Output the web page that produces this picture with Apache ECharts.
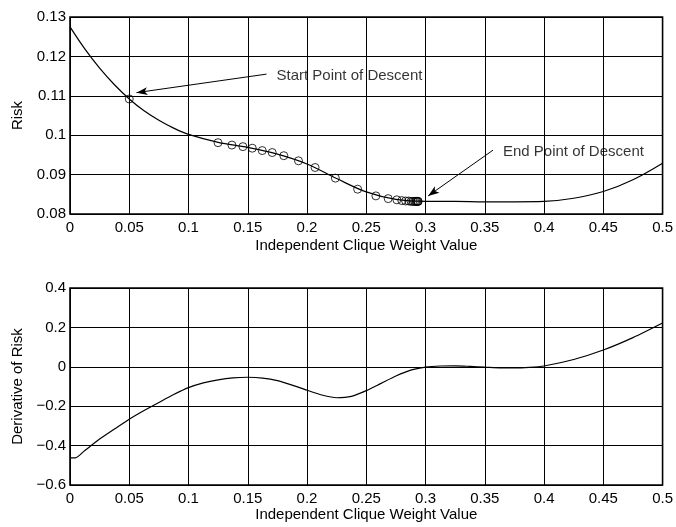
<!DOCTYPE html>
<html>
<head>
<meta charset="utf-8">
<script src="https://cdn.jsdelivr.net/npm/echarts@6/dist/echarts.min.js"></script>
<style>
html,body{margin:0;padding:0;background:#fff;}
#chart{width:676px;height:527px;}
</style>
</head>
<body>
<div id="chart"></div>
<script>
// ---- Data ----
const xTicks = [0, 0.05, 0.1, 0.15, 0.2, 0.25, 0.3, 0.35, 0.4, 0.45, 0.5];
const riskX = [0, 0.0125, 0.025, 0.0375, 0.05, 0.0625, 0.075, 0.0875, 0.1, 0.125, 0.15, 0.175, 0.2, 0.225, 0.25, 0.275, 0.3, 0.325, 0.35, 0.375, 0.4, 0.425, 0.45, 0.475, 0.5];
const riskY = [0.1275, 0.1219, 0.1170, 0.1128, 0.1092, 0.1062, 0.1038, 0.1018, 0.1002, 0.0982, 0.0969, 0.0952, 0.0927, 0.0890, 0.0856, 0.0837, 0.0832, 0.0832, 0.0831, 0.0831, 0.0832, 0.0840, 0.0857, 0.0887, 0.0929];
const descentX = [0.05, 0.1249, 0.1366, 0.1459, 0.1538, 0.1622, 0.1706, 0.1804, 0.1928, 0.2068, 0.2239, 0.2427, 0.2581, 0.2685, 0.2758, 0.2800, 0.2832, 0.2858, 0.2878, 0.2894, 0.2907, 0.2917, 0.2925, 0.2931, 0.2935, 0.2938];
const descentY = [0.1092, 0.0981, 0.0975, 0.0971, 0.0967, 0.0961, 0.0956, 0.0948, 0.0935, 0.0918, 0.0891, 0.0863, 0.0846, 0.0839, 0.0836, 0.0834, 0.0833, 0.0833, 0.0832, 0.0832, 0.0832, 0.0832, 0.0832, 0.0832, 0.0832, 0.0832];
const derivX = [0, 0.0045, 0.0125, 0.025, 0.0375, 0.05, 0.0625, 0.075, 0.0875, 0.1, 0.1125, 0.125, 0.1375, 0.15, 0.1625, 0.175, 0.1875, 0.2, 0.2125, 0.225, 0.2375, 0.25, 0.2625, 0.275, 0.2875, 0.3, 0.3125, 0.325, 0.3375, 0.35, 0.3625, 0.375, 0.3875, 0.4, 0.425, 0.45, 0.475, 0.5];
const derivY = [-0.462, -0.462, -0.425, -0.367, -0.316, -0.266, -0.222, -0.181, -0.141, -0.106, -0.082, -0.066, -0.056, -0.053, -0.057, -0.070, -0.093, -0.119, -0.143, -0.157, -0.150, -0.121, -0.084, -0.047, -0.017, -0.002, 0.004, 0.005, 0.002, -0.002, -0.005, -0.006, -0.003, 0.004, 0.037, 0.085, 0.148, 0.222];
const riskTicks = [0.08, 0.09, 0.1, 0.11, 0.12, 0.13];
const derivTicks = [-0.6, -0.4, -0.2, 0, 0.2, 0.4];
// annotations: [tailX, tailY, headX, headY, text]
const startArrow = [0.1658, 0.1155, 0.0561, 0.1108, 'Start Point of Descent'];
const endArrow = [0.3569, 0.0962, 0.3022, 0.0846, 'End Point of Descent'];

const FONT = 'Liberation Sans';
const FS = 15;
function fmt(v){ const s = String(parseFloat(v.toFixed(4))); return s.replace('-', '\u2212'); }
function pairs(xs, ys){ return xs.map((x,i)=>[x, ys[i]]); }

function xAxis(gi, gap){
  return {
    type:'value', gridIndex:gi, min:xTicks[0], max:xTicks[xTicks.length-1], interval:0.05,
    name:'Independent Clique Weight Value', nameLocation:'middle', nameGap:gap,
    nameTextStyle:{color:'#000', fontFamily:FONT, fontSize:FS},
    axisLine:{show:false}, axisTick:{show:false},
    axisLabel:{color:'#000', fontFamily:FONT, fontSize:FS, margin:6, formatter:fmt},
    splitLine:{show:true, lineStyle:{color:'#000', width:1}}
  };
}
function yAxis(gi, ticks, name){
  return {
    type:'value', gridIndex:gi, min:ticks[0], max:ticks[ticks.length-1], interval:ticks[1]-ticks[0],
    name:name, nameLocation:'middle', nameGap:45, nameRotate:90,
    nameTextStyle:{color:'#000', fontFamily:FONT, fontSize:FS},
    axisLine:{show:false}, axisTick:{show:false},
    axisLabel:{color:'#000', fontFamily:FONT, fontSize:FS, margin:4, formatter:fmt},
    splitLine:{show:true, lineStyle:{color:'#000', width:1}}
  };
}
function arrowSeries(a){
  return {
    type:'scatter', xAxisIndex:0, yAxisIndex:0, symbolSize:0, silent:true,
    data:[[a[0], a[1]]],
    label:{show:true, position:'right', distance:10, offset:[0,2], formatter:a[4], color:'#000', fontFamily:FONT, fontSize:FS},
    markLine:{
      silent:true, symbol:['none','arrow'], symbolSize:[6,11], animation:false,
      lineStyle:{color:'#000', width:1, type:'solid'},
      label:{show:false},
      data:[[{coord:[a[0], a[1]]},{coord:[a[2], a[3]]}]]
    }
  };
}

const chart = echarts.init(document.getElementById('chart'), null, {renderer:'canvas'});
chart.setOption({
  animation:false,
  backgroundColor:'#fff',
  grid:[
    {left:70, top:17, width:594, height:197, show:true, borderColor:'#000', borderWidth:1.6, backgroundColor:'transparent'},
    {left:70, top:288, width:594, height:197, show:true, borderColor:'#000', borderWidth:1.6, backgroundColor:'transparent'}
  ],
  xAxis:[xAxis(0, 24), xAxis(1, 22)],
  yAxis:[yAxis(0, riskTicks, 'Risk'), yAxis(1, derivTicks, 'Derivative of Risk')],
  series:[
    {type:'line', xAxisIndex:0, yAxisIndex:0, data:pairs(riskX, riskY), smooth:0.35, showSymbol:false, lineStyle:{color:'#000', width:1.2}, z:3},
    {type:'scatter', xAxisIndex:0, yAxisIndex:0, data:pairs(descentX, descentY), symbol:'circle', symbolSize:8, itemStyle:{color:'transparent', borderColor:'#000', borderWidth:1}, z:4},
    arrowSeries(startArrow),
    arrowSeries(endArrow),
    {type:'line', xAxisIndex:1, yAxisIndex:1, data:pairs(derivX, derivY), smooth:0.25, showSymbol:false, lineStyle:{color:'#000', width:1.2}, z:3}
  ]
});
</script>
</body>
</html>
